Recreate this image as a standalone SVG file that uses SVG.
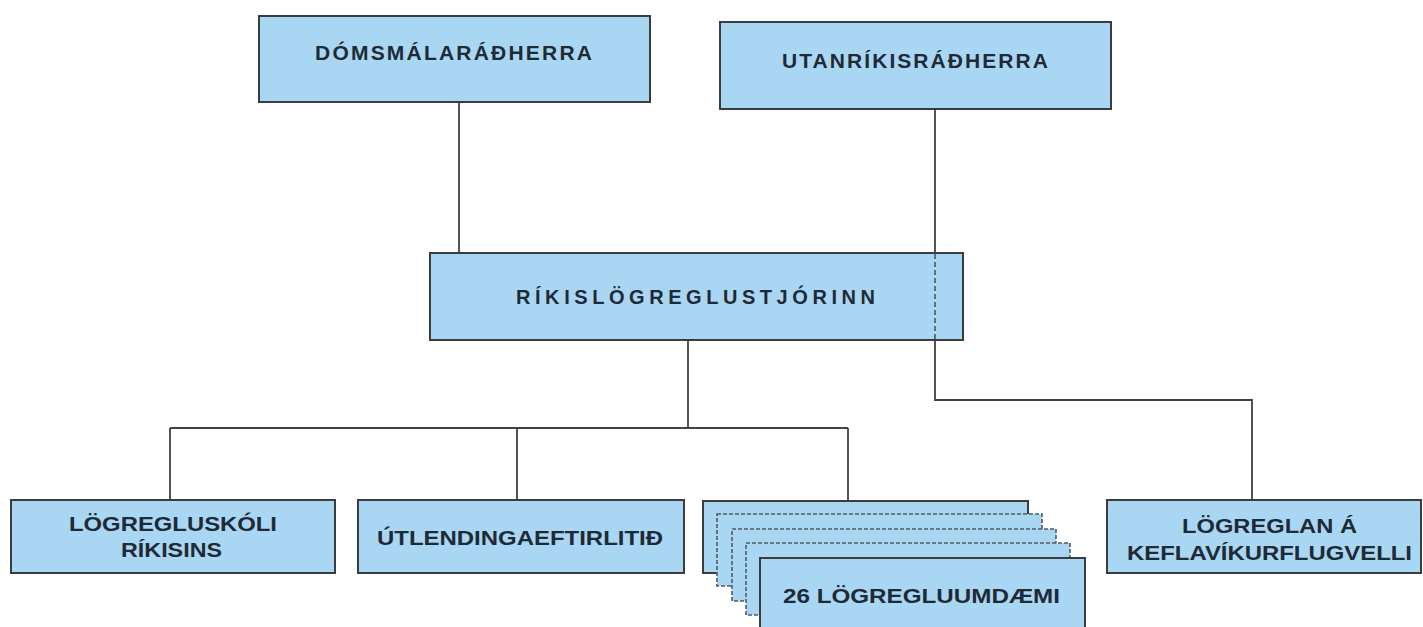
<svg xmlns="http://www.w3.org/2000/svg" width="1423" height="627" viewBox="0 0 1423 627">
<style>
.box{fill:#a9d7f3;stroke:#3a3d40;stroke-width:2}
.dbox{fill:#a9d7f3;stroke:#555a60;stroke-width:1.6;stroke-dasharray:4 2}
.t{font-family:"Liberation Sans",Arial,sans-serif;font-weight:bold;font-size:21px;fill:#1e2a36}
.th{font-family:"Liberation Sans",Arial,sans-serif;font-weight:bold;font-size:20px;fill:#1e2a36}
.ln{fill:none;stroke:#3f4245;stroke-width:1.8}
.dl{fill:none;stroke:#50555a;stroke-width:1.6;stroke-dasharray:5 3}
</style>
<rect width="1423" height="627" fill="#ffffff"/>
<g id="connectors">
<line class="ln" x1="459" y1="102" x2="459" y2="253"/>
<line class="ln" x1="935" y1="109" x2="935" y2="253"/>
<polyline class="ln" points="935,340 935,400 1252,400 1252,500"/>
<line class="ln" x1="688" y1="340" x2="688" y2="428"/>
<line class="ln" x1="170" y1="428" x2="848" y2="428"/>
<line class="ln" x1="170" y1="428" x2="170" y2="500"/>
<line class="ln" x1="517" y1="428" x2="517" y2="500"/>
<line class="ln" x1="848" y1="428" x2="848" y2="501"/>
</g>
<g id="domsmalaradherra">
<rect class="box" x="259" y="16" width="391" height="86"/>
<text class="t" x="315" y="60" textLength="277" lengthAdjust="spacing">DÓMSMÁLARÁÐHERRA</text>
</g>
<g id="utanrikisradherra">
<rect class="box" x="720" y="22" width="391" height="87"/>
<text class="t" x="782" y="68" textLength="266" lengthAdjust="spacing">UTANRÍKISRÁÐHERRA</text>
</g>
<g id="rikislogreglustjorinn">
<rect class="box" x="430" y="253" width="533" height="87"/>
<line class="dl" x1="935" y1="254" x2="935" y2="339"/>
<text class="th" x="516" y="304" textLength="359" lengthAdjust="spacing">RÍKISLÖGREGLUSTJÓRINN</text>
</g>
<g id="logregluskoli">
<rect class="box" x="11" y="500" width="324" height="73"/>
<text class="t" x="69" y="531" textLength="208" lengthAdjust="spacingAndGlyphs">LÖGREGLUSKÓLI</text>
<text class="t" x="121" y="557" textLength="101" lengthAdjust="spacingAndGlyphs">RÍKISINS</text>
</g>
<g id="utlendingaeftirlitid">
<rect class="box" x="358" y="500" width="326" height="73"/>
<text class="t" x="377" y="545" textLength="286" lengthAdjust="spacingAndGlyphs">ÚTLENDINGAEFTIRLITIÐ</text>
</g>
<g id="logregluumdaemi">
<rect class="box" x="703" y="501" width="325" height="72"/>
<rect class="dbox" x="717" y="514" width="325" height="72"/>
<rect class="dbox" x="732" y="529" width="324" height="72"/>
<rect class="dbox" x="746" y="543" width="324" height="72"/>
<rect class="box" x="760" y="558" width="325" height="80"/>
<text class="t" x="783" y="603" textLength="277" lengthAdjust="spacingAndGlyphs">26 LÖGREGLUUMDÆMI</text>
</g>
<g id="keflavik">
<rect class="box" x="1107" y="500" width="314" height="73"/>
<text class="t" x="1182" y="533" textLength="175" lengthAdjust="spacingAndGlyphs">LÖGREGLAN Á</text>
<text class="t" x="1127" y="560" textLength="285" lengthAdjust="spacingAndGlyphs">KEFLAVÍKURFLUGVELLI</text>
</g>
</svg>
